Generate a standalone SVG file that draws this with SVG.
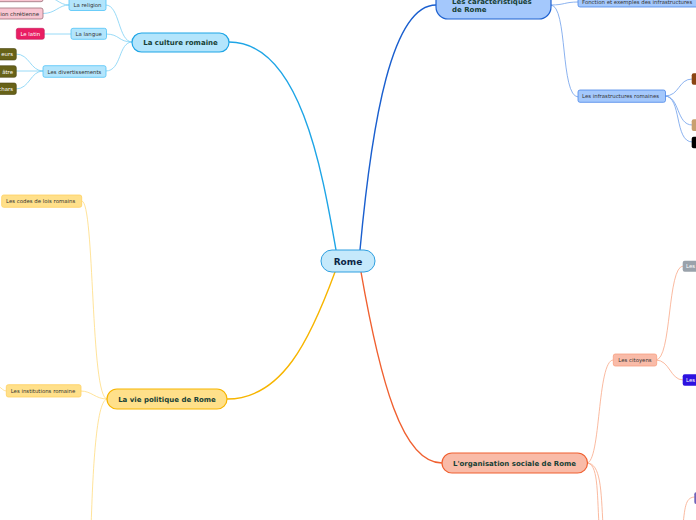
<svg xmlns="http://www.w3.org/2000/svg" width="696" height="520" viewBox="0 0 696 520">
<style>
text{font-family:"DejaVu Sans","Verdana",sans-serif}
.main{font-size:7px;font-weight:bold;fill:#173f35}
.sub{font-size:5.4px;fill:#333}
.leaf{font-size:5.4px;fill:#fff}
.c{fill:none;stroke-linecap:round}
.cb{stroke:#1ea5e6;stroke-width:1.4}
.cd{stroke:#1a5fcf;stroke-width:1.4}
.co{stroke:#f7b500;stroke-width:1.4}
.cr{stroke:#f06030;stroke-width:1.4}
.lb{stroke:#7dd0f5;stroke-width:0.8}
.ld{stroke:#6d9eeb;stroke-width:0.8}
.ly{stroke:#ffdc80;stroke-width:0.8}
.lr{stroke:#f9a888;stroke-width:0.8}
</style>
<g id="connectors">
<path class="c cb" d="M336,250 C322,170 300,42 229,42"/>
<path class="c cd" d="M360,250 C372,120 392,5 436,5"/>
<path class="c co" d="M335,272 C310,340 282,399 227,399"/>
<path class="c cr" d="M361,272 C380,380 402,463 442,463"/>
<path class="c lb" d="M132,42 C118,42 120,5 106,5"/>
<path class="c lb" d="M132,42 C118,42 120,34 106,34"/>
<path class="c lb" d="M132,42 C118,42 122,71 106,71"/>
<path class="c lb" d="M69,5 C58,5 56,-4 43,-4"/>
<path class="c lb" d="M69,5 C58,5 56,13.5 43,13.5"/>
<path class="c lb" d="M71,34 L44,34"/>
<path class="c lb" d="M43,71 C30,71 30,54 16,54"/>
<path class="c lb" d="M43,71 L16,71"/>
<path class="c lb" d="M43,71 C30,71 30,89 16,89"/>
<path class="c ld" d="M551,5 C565,5 564,2 578,2"/>
<path class="c ld" d="M551,5 C568,5 560,97 578,97"/>
<path class="c ld" d="M665,96 C680,96 678,79 692,79"/>
<path class="c ld" d="M665,96 C680,96 676,125 692,125"/>
<path class="c ld" d="M665,96 C682,96 674,142 692,142"/>
<path class="c ly" d="M107,399 C90,399 95,201 82,201"/>
<path class="c ly" d="M107,399 C95,399 92,391 81,391"/>
<path class="c ly" d="M107,399 C97,399 93,460 91,530"/>
<path class="c ly" d="M6,391 C3,391 2,388 -2,386"/>
<path class="c lr" d="M587,463 C601,463 597,360 613,360"/>
<path class="c lr" d="M587,463 C598,463 597,490 599,525"/>
<path class="c lr" d="M587,463 C601,463 601,490 603,525"/>
<path class="c lr" d="M656,360 C672,360 667,266 683,266"/>
<path class="c lr" d="M656,360 C670,360 670,380 683,380"/>
<path class="c lr" d="M683,525 C685,505 686,497 695,497"/>
</g>
<g id="rome">
<rect x="321" y="250" width="54" height="22" rx="11" fill="#c5e9fb" stroke="#2e9fe0" stroke-width="1"/>
<text x="348" y="264.5" text-anchor="middle" font-size="9" font-weight="bold" fill="#0b2545">Rome</text>
</g>
<g id="culture">
<rect x="132" y="33" width="97" height="19" rx="9.5" fill="#b3e5fc" stroke="#1ea5e6" stroke-width="1.2"/>
<text class="main" x="180.5" y="45" text-anchor="middle">La culture romaine</text>
</g>
<g id="caracteristiques">
<rect x="436" y="-12" width="115" height="31" rx="12" fill="#a4c8fc" stroke="#1f62d0" stroke-width="1.2"/>
<text class="main" x="452" y="4">Les caractéristiques</text>
<text class="main" x="452" y="12">de Rome</text>
</g>
<g id="vie-politique">
<rect x="107" y="389" width="120" height="20" rx="10" fill="#ffe08a" stroke="#f7b500" stroke-width="1.2"/>
<text class="main" x="167" y="401.5" text-anchor="middle">La vie politique de Rome</text>
</g>
<g id="organisation">
<rect x="442" y="453" width="145.5" height="20" rx="10" fill="#f9bba8" stroke="#f06030" stroke-width="1.2"/>
<text class="main" x="514.5" y="465.5" text-anchor="middle">L'organisation sociale de Rome</text>
</g>
<g id="religion">
<rect x="69" y="-2" width="37" height="12.5" rx="2" fill="#b3e5fc" stroke="#4fc3f7" stroke-width="0.8"/>
<text class="sub" x="87.5" y="6.5" text-anchor="middle">La religion</text>
</g>
<g id="langue">
<rect x="71" y="28.3" width="35.5" height="11" rx="2" fill="#b3e5fc" stroke="#4fc3f7" stroke-width="0.8"/>
<text class="sub" x="88.7" y="35.8" text-anchor="middle">La langue</text>
</g>
<g id="divertissements">
<rect x="43" y="65.7" width="63" height="11.6" rx="2" fill="#b3e5fc" stroke="#4fc3f7" stroke-width="0.8"/>
<text class="sub" x="74.5" y="73.5" text-anchor="middle">Les divertissements</text>
</g>
<g id="religion-1">
<rect x="-20" y="-9" width="63" height="10.7" rx="2" fill="#f8c6d2" stroke="#9c6f7a" stroke-width="0.8"/>
</g>
<g id="religion-chretienne">
<rect x="-20" y="8" width="63" height="11" rx="2" fill="#f8c6d2" stroke="#9c6f7a" stroke-width="0.8"/>
<text class="sub" x="39" y="15.5" text-anchor="end">ion chrétienne</text>
</g>
<g id="latin">
<rect x="16.3" y="28.3" width="28" height="11" rx="2" fill="#e91e63" stroke="#c2185b" stroke-width="0.6"/>
<text class="leaf" x="30.3" y="35.8" text-anchor="middle">Le latin</text>
</g>
<g id="div-1">
<rect x="-20" y="48.5" width="36.3" height="11.5" rx="2" fill="#676218" stroke="#4a4510" stroke-width="0.6"/>
<text class="leaf" x="13" y="56.2" text-anchor="end">eurs</text>
</g>
<g id="div-2">
<rect x="-20" y="65.7" width="36.3" height="11.6" rx="2" fill="#676218" stroke="#4a4510" stroke-width="0.6"/>
<text class="leaf" x="13" y="73.5" text-anchor="end">âtre</text>
</g>
<g id="div-3">
<rect x="-20" y="83" width="36.3" height="11.5" rx="2" fill="#676218" stroke="#4a4510" stroke-width="0.6"/>
<text class="leaf" x="13" y="90.7" text-anchor="end">chars</text>
</g>
<g id="fonction">
<rect x="578" y="-4" width="130" height="11" rx="2" fill="#a4c8fc" stroke="#4a86e8" stroke-width="0.8"/>
<text class="sub" x="582" y="4">Fonction et exemples des infrastructures</text>
</g>
<g id="infrastructures">
<rect x="578" y="90" width="87.5" height="12.3" rx="2" fill="#a4c8fc" stroke="#4a86e8" stroke-width="0.8"/>
<text class="sub" x="582" y="98.2">Les infrastructures romaines</text>
</g>
<g id="infra-1"><rect x="691.7" y="73.3" width="10" height="11.4" rx="2" fill="#8b4513"/></g>
<g id="infra-2"><rect x="691.7" y="119.3" width="10" height="11.7" rx="2" fill="#c8a070"/></g>
<g id="infra-3"><rect x="691.7" y="136.7" width="10" height="11.6" rx="2" fill="#000"/></g>
<g id="codes">
<rect x="1.7" y="195" width="80" height="12.3" rx="2" fill="#ffe08a" stroke="#ffd060" stroke-width="0.8"/>
<text class="sub" x="6" y="203.2">Les codes de lois romains</text>
</g>
<g id="institutions">
<rect x="6.3" y="384.7" width="74.7" height="12.3" rx="2" fill="#ffe08a" stroke="#ffd060" stroke-width="0.8"/>
<text class="sub" x="10.7" y="392.8">Les institutions romaine</text>
</g>
<g id="citoyens">
<rect x="613.3" y="354" width="43.4" height="12" rx="2" fill="#f9bba8" stroke="#f7a080" stroke-width="0.8"/>
<text class="sub" x="635" y="361.9" text-anchor="middle">Les citoyens</text>
</g>
<g id="citoyens-1">
<rect x="682.7" y="260.7" width="20" height="11" rx="2" fill="#9aa2ab"/>
<text class="leaf" x="686" y="268">Les</text>
</g>
<g id="citoyens-2">
<rect x="682.7" y="374.3" width="20" height="11.4" rx="2" fill="#2d12e0"/>
<text class="leaf" x="686" y="381.8">Les</text>
</g>
<g id="org-leaf">
<rect x="694.3" y="492.3" width="10" height="11.7" rx="2" fill="#6f63b8"/>
</g>
</svg>
